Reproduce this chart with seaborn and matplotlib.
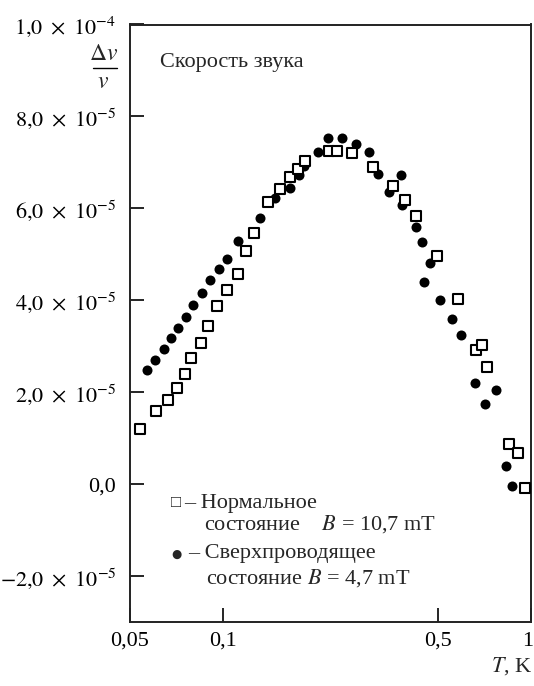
import numpy as np
import pandas as pd
import matplotlib
matplotlib.use("Agg")
import matplotlib.pyplot as plt
import matplotlib.transforms as mtransforms
from matplotlib.lines import Line2D
import seaborn as sns

sns.set_style("ticks")
plt.rcParams["font.family"] = ["Liberation Serif", "DejaVu Serif"]
plt.rcParams["mathtext.fontset"] = "stix"

# normal state, B = 10.7 mT (open squares)
t_normal = [0.0537, 0.0608, 0.0664, 0.0711, 0.0756, 0.0790, 0.0847, 0.0895, 0.0960, 0.1031,
            0.1119, 0.1186, 0.1259, 0.1405, 0.1537, 0.1648, 0.1756, 0.1844, 0.2210, 0.2353,
            0.2619, 0.3071, 0.3567, 0.3901, 0.4227, 0.4970, 0.5816, 0.662, 0.696, 0.7187,
            0.849, 0.9103, 0.9566]
dv_normal = [1.21, 1.59, 1.83, 2.10, 2.40, 2.74, 3.06, 3.45, 3.88, 4.23,
             4.57, 5.07, 5.46, 6.14, 6.42, 6.68, 6.86, 7.02, 7.25, 7.25,
             7.21, 6.90, 6.49, 6.19, 5.83, 4.96, 4.03, 2.92, 3.03, 2.55,
             0.87, 0.68, -0.08]

# superconducting state, B = 4.7 mT (filled circles)
t_super = [0.0569, 0.0604, 0.0644, 0.0677, 0.0716, 0.0757, 0.0801, 0.0854, 0.0906, 0.0971,
           0.1029, 0.1121, 0.1317, 0.1473, 0.1648, 0.1762, 0.1836, 0.2042, 0.2194, 0.2443,
           0.2699, 0.2973, 0.3198, 0.3454, 0.3786, 0.3811, 0.4237, 0.4443, 0.4717, 0.4493,
           0.5056, 0.556, 0.594, 0.657, 0.7685, 0.708, 0.828, 0.8706]
dv_super = [2.48, 2.69, 2.94, 3.17, 3.40, 3.64, 3.90, 4.16, 4.45, 4.67,
            4.90, 5.28, 5.79, 6.23, 6.45, 6.73, 6.92, 7.23, 7.52, 7.53,
            7.41, 7.23, 6.75, 6.35, 6.72, 6.07, 5.59, 5.27, 4.81, 4.39,
            4.01, 3.59, 3.25, 2.21, 2.05, 1.75, 0.39, -0.04]

yticks = [-2e-5, 0, 2e-5, 4e-5, 6e-5, 8e-5, 1e-4]
ytick_labels = [r"$-2{,}0\ \times\ 10^{-5}$", "0,0", r"$2{,}0\ \times\ 10^{-5}$",
                r"$4{,}0\ \times\ 10^{-5}$", r"$6{,}0\ \times\ 10^{-5}$",
                r"$8{,}0\ \times\ 10^{-5}$", r"$1{,}0\ \times\ 10^{-4}$"]
xticks = [0.05, 0.1, 0.5, 1]
xtick_labels = ["0,05", "0,1", "0,5", "1"]

df_n = pd.DataFrame({"T": t_normal, "dv": np.array(dv_normal) * 1e-5})
df_s = pd.DataFrame({"T": t_super, "dv": np.array(dv_super) * 1e-5})

fig = plt.figure(figsize=(5.34, 6.86), dpi=100)
ax = fig.add_axes([130 / 534, 1 - 622 / 686, 401 / 534, 597.5 / 686])

sns.scatterplot(x="T", y="dv", data=df_s, marker="o", color="black", edgecolor="black",
                s=52, linewidth=0, ax=ax, zorder=3)
sns.scatterplot(x="T", y="dv", data=df_n, marker="s", color="white", edgecolor="black",
                s=52, linewidth=1.5, ax=ax, zorder=4)

ax.set_xscale("log")
ax.set_xlim(0.05, 1)
ax.set_ylim(-3e-5, 1e-4)
ax.set_xticks(xticks)
ax.set_xticklabels(xtick_labels)
ax.minorticks_off()
ax.set_yticks(yticks)
ax.set_yticklabels(ytick_labels)
ax.tick_params(direction="in", length=10, width=1.2, labelsize=16, colors="black")
ax.tick_params(axis="x", pad=7)
ax.tick_params(axis="y", pad=10)
last = ax.get_xticklabels()[-1]
last.set_transform(last.get_transform() + mtransforms.ScaledTranslation(-0.03, 0, fig.dpi_scale_trans))
for sp in ax.spines.values():
    sp.set_linewidth(1.4)
    sp.set_color("#222222")
ax.set_xlabel("")
ax.set_ylabel("")

# y label as a stacked fraction
fig.text(104 / 534, 1 - 54 / 686, r"$\Delta v$", ha="center", va="center", fontsize=17)
fig.add_artist(Line2D([92.5 / 534, 116.5 / 534], [1 - 68 / 686, 1 - 68 / 686],
                      color="black", linewidth=1.0, transform=fig.transFigure))
fig.text(103 / 534, 1 - 83 / 686, r"$v$", ha="center", va="center", fontsize=17)
fig.text(532 / 534, 1 - 666 / 686, r"$T$, K", ha="right", va="center", fontsize=16)

ax.text(0.075, 0.936, "Скорость звука", transform=ax.transAxes, fontsize=16, va="center")

ax.text(0.102, 0.199, "□", transform=ax.transAxes, fontsize=12, va="center",
        family=["Liberation Serif", "DejaVu Sans"])
ax.text(0.135, 0.199, "– Нормальное", transform=ax.transAxes, fontsize=16, va="center")
ax.text(0.184, 0.164, r"состояние    $B$ = 10,7 mT", transform=ax.transAxes, fontsize=16, va="center")
ax.text(0.104, 0.114, "●", transform=ax.transAxes, fontsize=8.5, va="center", family=["DejaVu Sans"])
ax.text(0.145, 0.114, "– Сверхпроводящее", transform=ax.transAxes, fontsize=16, va="center")
ax.text(0.19, 0.074, r"состояние $B$ = 4,7 mT", transform=ax.transAxes, fontsize=16, va="center")

plt.savefig("out.png", dpi=100)
plt.close()
